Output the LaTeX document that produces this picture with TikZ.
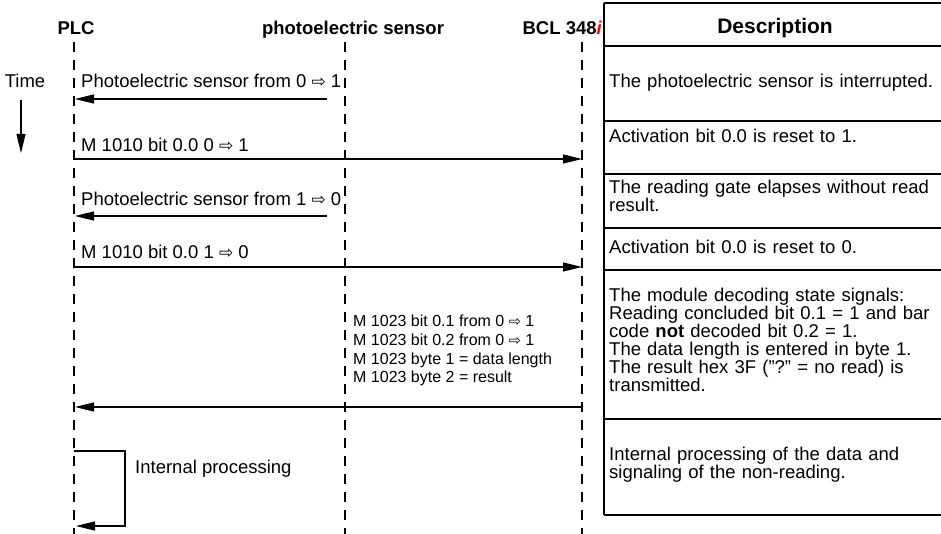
\documentclass[tikz,border=0pt]{standalone}
\usepackage{fontspec}
\setmainfont{Liberation Sans}
\newfontfamily\symfont{DejaVu Sans}
\usetikzlibrary{positioning, arrows.meta}

\newcommand{\sarrow}[1][17]{{\symfont\fontsize{#1}{#1}\selectfont ⇨}}

\begin{document}
\begin{tikzpicture}[
    x=1pt, y=-1pt,
    >={Triangle[length=19pt,width=9pt]},
    font=\fontsize{18.5}{19}\selectfont,
    head/.style={font=\fontsize{18.5}{19}\selectfont\bfseries, anchor=base, inner sep=0pt},
    lifeline/.style={dashed, dash pattern=on 10pt off 8pt, line width=1.2pt},
    msg/.style={->, line width=1.2pt},
    lbl/.style={anchor=base west, inner sep=0pt},
    small/.style={anchor=north west, inner sep=0pt, align=left, font=\fontsize{16}{18.7}\selectfont},
    desc/.style={anchor=north west, inner sep=0pt, align=left, text width=328pt, font=\fontsize{18.5}{18}\selectfont},
    grid/.style={line width=1.2pt},
]

\def\colA{74}
\def\colB{345}
\def\colC{582}
\def\tabL{604}
\def\tabR{941}

\useasboundingbox (0,0) rectangle (941,534);

% heads
\node[head] (plc) at (76,35) {PLC};
\node[head] (sensor) at (353,35) {photoelectric sensor};
\node[head, anchor=base east] (bcl) at (602,35) {BCL 348{\color{red}\itshape i}};
\node[head, font=\fontsize{21}{21}\selectfont\bfseries] (dhead) at (775,34) {Description};

% lifelines
\foreach \n/\x in {plc/\colA, sensor/\colB, bcl/\colC} {
    \coordinate (\n Top) at (\x,42);
    \coordinate (\n Bot) at (\x,534);
    \draw[lifeline] (\n Top) -- (\n Bot);
}

% time
\node[lbl, anchor=base] (time) at (25,88) {Time};
\coordinate (t0) at (21,100);
\coordinate (t1) at (21,153);
\draw[msg] (t0) -- (t1);

% messages
\coordinate (s1) at (327,99);  \coordinate (p1) at (75,99);
\coordinate (p2) at (75,159);  \coordinate (b2) at (582,159);
\coordinate (s3) at (327,216); \coordinate (p3) at (75,216);
\coordinate (p4) at (75,267);  \coordinate (b4) at (582,267);
\coordinate (b5) at (582,407); \coordinate (p5) at (75,407);
\coordinate (p6) at (\colA,451); \coordinate (r6) at (125,526); \coordinate (q6) at (76,526);

\draw[msg] (s1) -- (p1);
\node[lbl] (l1) at (81,88) {Photoelectric sensor from 0 \sarrow{} 1};
\draw[msg] (p2) -- (b2);
\node[lbl] (l2) at (81,152) {M 1010 bit 0.0 0 \sarrow{} 1};
\draw[msg] (s3) -- (p3);
\node[lbl] (l3) at (81,206) {Photoelectric sensor from 1 \sarrow{} 0};
\draw[msg] (p4) -- (b4);
\node[lbl] (l4) at (81,259) {M 1010 bit 0.0 1 \sarrow{} 0};

\node[small] (l5) at (353,315) {M 1023 bit 0.1 from 0 \sarrow[14.5]{} 1\\
    M 1023 bit 0.2 from 0 \sarrow[14.5]{} 1\\
    M 1023 byte 1 = data length\\
    M 1023 byte 2 = result};
\draw[msg] (b5) -- (p5);

\draw[msg] (p6) -| (r6) -- (q6);
\node[lbl] (l6) at (135,473) {Internal processing};

% description table
\foreach \y in {3,46,121,174,228,270,419}
    \draw[grid] (\tabL,\y) -- (\tabR,\y);
\draw[line width=2pt] (\tabL,515) -- (\tabR,515);
\draw[grid] (\tabL,3) -- (\tabL,515);

\node[desc] (d1) at (609,74) {The photoelectric sensor is interrupted.};
\node[desc] (d2) at (609,129) {Activation bit 0.0 is reset to 1.};
\node[desc] (d3) at (609,180) {The reading gate elapses without read\\result.};
\node[desc] (d4) at (609,240) {Activation bit 0.0 is reset to 0.};
\node[desc] (d5) at (609,288) {The module decoding state signals:\\
    Reading concluded bit 0.1 = 1 and bar\\
    code \textbf{not} decoded bit 0.2 = 1.\\
    The data length is entered in byte 1.\\
    The result hex 3F ("?" = no read) is\\
    transmitted.};
\node[desc] (d6) at (609,447) {Internal processing of the data and\\
    signaling of the non-reading.};

\end{tikzpicture}
\end{document}
